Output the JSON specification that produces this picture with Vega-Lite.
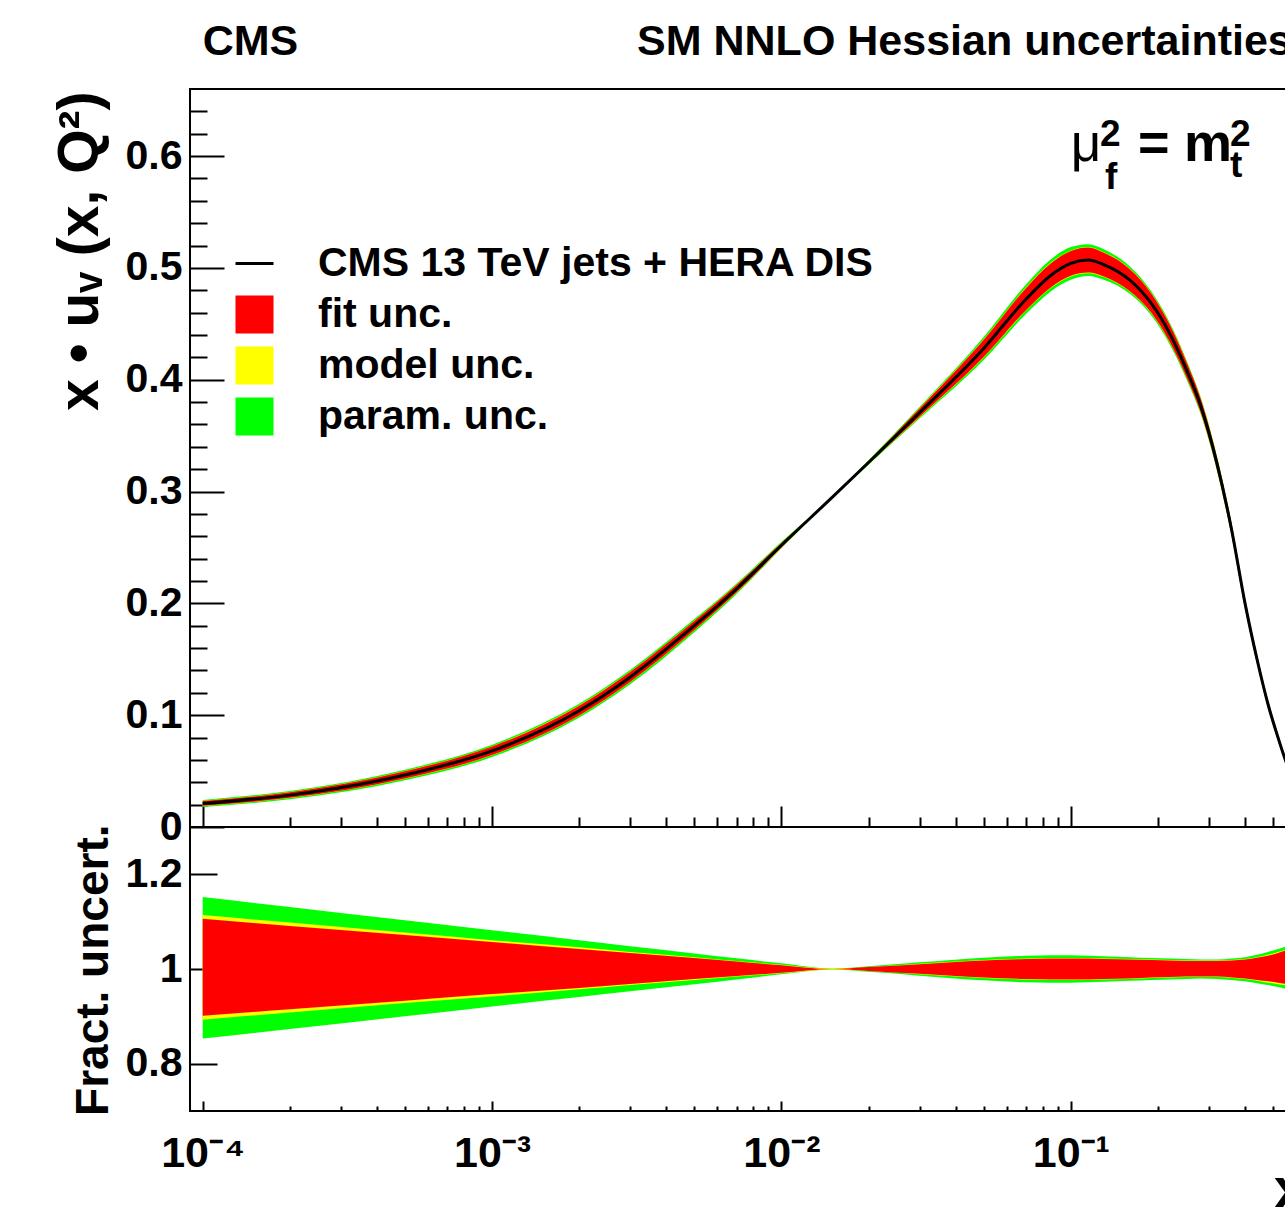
{
  "$schema": "https://vega.github.io/schema/vega-lite/v6.json",
  "background": "white",
  "padding": {"left": 50, "top": 19, "right": 0, "bottom": 0},
  "spacing": 0,
  "bounds": "flush",
  "resolve": {"scale": {"color": "independent"}, "legend": {"color": "independent"}},
  "config": {
    "font": "Liberation Sans",
    "view": {"stroke": "black", "strokeWidth": 2},
    "axis": {"grid": false, "domain": false, "tickColor": "black", "tickWidth": 2, "labelColor": "black", "titleColor": "black", "labelFont": "Liberation Sans", "titleFont": "Liberation Sans", "labelFontWeight": "bold", "titleFontWeight": "bold", "labelFlush": false, "labelOverlap": false, "labelLimit": 0, "tickCount": 200}
  },
  "datasets": {
    "upper": [
      {"x":0.0001,"c":0.021,"gl":0.0179,"yl":0.01875,"rl":0.01892,"rh":0.02323,"yh":0.02339,"gh":0.02419},
      {"x":0.0002,"c":0.0285,"gl":0.02488,"yl":0.02588,"rl":0.02608,"rh":0.03109,"yh":0.03129,"gh":0.03223},
      {"x":0.0005,"c":0.0465,"gl":0.04185,"yl":0.04315,"rl":0.04338,"rh":0.04985,"yh":0.05008,"gh":0.05129},
      {"x":0.001,"c":0.068,"gl":0.0626,"yl":0.0641,"rl":0.0644,"rh":0.0719,"yh":0.0722,"gh":0.0736},
      {"x":0.002,"c":0.104,"gl":0.0979,"yl":0.0995,"rl":0.0998,"rh":0.1084,"yh":0.1088,"gh":0.1103},
      {"x":0.003,"c":0.134,"gl":0.1277,"yl":0.12944,"rl":0.12978,"rh":0.13856,"yh":0.13882,"gh":0.14043},
      {"x":0.005,"c":0.180,"gl":0.17424,"yl":0.17586,"rl":0.17622,"rh":0.18414,"yh":0.1845,"gh":0.18594},
      {"x":0.007,"c":0.213,"gl":0.20831,"yl":0.20961,"rl":0.20987,"rh":0.21637,"yh":0.21662,"gh":0.21781},
      {"x":0.01,"c":0.252,"gl":0.24923,"yl":0.24973,"rl":0.24998,"rh":0.25402,"yh":0.25427,"gh":0.25502},
      {"x":0.015,"c":0.295,"gl":0.2947,"yl":0.2947,"rl":0.2950,"rh":0.2950,"yh":0.2953,"gh":0.2953},
      {"x":0.02,"c":0.326,"gl":0.32404,"yl":0.3247,"rl":0.3247,"rh":0.3273,"yh":0.3273,"gh":0.32796},
      {"x":0.03,"c":0.3705,"gl":0.36531,"yl":0.36642,"rl":0.3668,"rh":0.37421,"yh":0.37458,"gh":0.37569},
      {"x":0.05,"c":0.428,"gl":0.4177,"yl":0.4199,"rl":0.4203,"rh":0.4357,"yh":0.4361,"gh":0.4383},
      {"x":0.07,"c":0.472,"gl":0.4588,"yl":0.4616,"rl":0.4621,"rh":0.4819,"yh":0.4824,"gh":0.4852},
      {"x":0.085,"c":0.493,"gl":0.4787,"yl":0.4817,"rl":0.4822,"rh":0.5038,"yh":0.5043,"gh":0.5073},
      {"x":0.1,"c":0.504,"gl":0.4894,"yl":0.4924,"rl":0.4929,"rh":0.5151,"yh":0.5156,"gh":0.5186},
      {"x":0.115,"c":0.507,"gl":0.4928,"yl":0.4953,"rl":0.4958,"rh":0.5182,"yh":0.5187,"gh":0.5212},
      {"x":0.13,"c":0.503,"gl":0.4894,"yl":0.4919,"rl":0.4924,"rh":0.5136,"yh":0.5141,"gh":0.5166},
      {"x":0.16,"c":0.489,"gl":0.4768,"yl":0.4787,"rl":0.4792,"rh":0.4988,"yh":0.4993,"gh":0.5012},
      {"x":0.19,"c":0.468,"gl":0.4572,"yl":0.4591,"rl":0.4596,"rh":0.4769,"yh":0.4774,"gh":0.4788},
      {"x":0.22,"c":0.441,"gl":0.4313,"yl":0.4331,"rl":0.4335,"rh":0.4489,"yh":0.4494,"gh":0.4507},
      {"x":0.25,"c":0.41,"gl":0.4014,"yl":0.4030,"rl":0.4034,"rh":0.4170,"yh":0.4174,"gh":0.4186},
      {"x":0.28,"c":0.378,"gl":0.3704,"yl":0.3716,"rl":0.3720,"rh":0.3844,"yh":0.3848,"gh":0.3856},
      {"x":0.32,"c":0.325,"gl":0.3182,"yl":0.3195,"rl":0.3198,"rh":0.3305,"yh":0.3309,"gh":0.3315},
      {"x":0.36,"c":0.265,"gl":0.2589,"yl":0.2600,"rl":0.2602,"rh":0.2698,"yh":0.2700,"gh":0.2708},
      {"x":0.4,"c":0.200,"gl":0.1948,"yl":0.1958,"rl":0.1960,"rh":0.2040,"yh":0.2042,"gh":0.2050},
      {"x":0.44,"c":0.150,"gl":0.1455,"yl":0.1463,"rl":0.1466,"rh":0.1536,"yh":0.1538,"gh":0.1545},
      {"x":0.48,"c":0.110,"gl":0.1063,"yl":0.1068,"rl":0.1071,"rh":0.1131,"yh":0.1133,"gh":0.1140},
      {"x":0.52,"c":0.080,"gl":0.0770,"yl":0.0774,"rl":0.0777,"rh":0.0827,"yh":0.0829,"gh":0.0834},
      {"x":0.56,"c":0.055,"gl":0.0526,"yl":0.0531,"rl":0.0532,"rh":0.0572,"yh":0.0573,"gh":0.0577},
      {"x":0.6,"c":0.037,"gl":0.0352,"yl":0.0355,"rl":0.0357,"rh":0.0388,"yh":0.0389,"gh":0.0392}
    ],
    "ratio": [
      {"x":0.0001,"gl":0.853,"yl":0.893,"rl":0.901,"rh":1.106,"yh":1.114,"gh":1.152},
      {"x":0.0002,"gl":0.873,"yl":0.908,"rl":0.915,"rh":1.091,"yh":1.098,"gh":1.131},
      {"x":0.0005,"gl":0.900,"yl":0.928,"rl":0.933,"rh":1.072,"yh":1.077,"gh":1.103},
      {"x":0.001,"gl":0.921,"yl":0.942,"rl":0.947,"rh":1.057,"yh":1.061,"gh":1.082},
      {"x":0.002,"gl":0.941,"yl":0.957,"rl":0.960,"rh":1.042,"yh":1.046,"gh":1.061},
      {"x":0.003,"gl":0.953,"yl":0.966,"rl":0.9685,"rh":1.034,"yh":1.036,"gh":1.048},
      {"x":0.005,"gl":0.968,"yl":0.977,"rl":0.979,"rh":1.023,"yh":1.025,"gh":1.033},
      {"x":0.007,"gl":0.978,"yl":0.9841,"rl":0.9853,"rh":1.0158,"yh":1.017,"gh":1.0226},
      {"x":0.01,"gl":0.989,"yl":0.991,"rl":0.992,"rh":1.008,"yh":1.009,"gh":1.012},
      {"x":0.015,"gl":0.999,"yl":0.999,"rl":1.000,"rh":1.000,"yh":1.001,"gh":1.001},
      {"x":0.02,"gl":0.994,"yl":0.996,"rl":0.996,"rh":1.004,"yh":1.004,"gh":1.006},
      {"x":0.03,"gl":0.986,"yl":0.989,"rl":0.990,"rh":1.010,"yh":1.011,"gh":1.014},
      {"x":0.05,"gl":0.976,"yl":0.981,"rl":0.982,"rh":1.018,"yh":1.019,"gh":1.024},
      {"x":0.07,"gl":0.972,"yl":0.978,"rl":0.979,"rh":1.021,"yh":1.022,"gh":1.028},
      {"x":0.085,"gl":0.971,"yl":0.977,"rl":0.978,"rh":1.022,"yh":1.023,"gh":1.029},
      {"x":0.1,"gl":0.971,"yl":0.977,"rl":0.978,"rh":1.022,"yh":1.023,"gh":1.029},
      {"x":0.115,"gl":0.972,"yl":0.977,"rl":0.978,"rh":1.022,"yh":1.023,"gh":1.028},
      {"x":0.13,"gl":0.973,"yl":0.978,"rl":0.979,"rh":1.021,"yh":1.022,"gh":1.027},
      {"x":0.16,"gl":0.975,"yl":0.979,"rl":0.980,"rh":1.020,"yh":1.021,"gh":1.025},
      {"x":0.19,"gl":0.977,"yl":0.981,"rl":0.982,"rh":1.019,"yh":1.020,"gh":1.023},
      {"x":0.22,"gl":0.978,"yl":0.982,"rl":0.983,"rh":1.018,"yh":1.019,"gh":1.022},
      {"x":0.25,"gl":0.979,"yl":0.983,"rl":0.984,"rh":1.017,"yh":1.018,"gh":1.021},
      {"x":0.28,"gl":0.980,"yl":0.983,"rl":0.984,"rh":1.017,"yh":1.018,"gh":1.020},
      {"x":0.32,"gl":0.979,"yl":0.983,"rl":0.984,"rh":1.017,"yh":1.018,"gh":1.020},
      {"x":0.36,"gl":0.977,"yl":0.981,"rl":0.982,"rh":1.018,"yh":1.019,"gh":1.022},
      {"x":0.4,"gl":0.974,"yl":0.979,"rl":0.980,"rh":1.020,"yh":1.021,"gh":1.025},
      {"x":0.44,"gl":0.970,"yl":0.975,"rl":0.977,"rh":1.024,"yh":1.025,"gh":1.030},
      {"x":0.48,"gl":0.966,"yl":0.971,"rl":0.974,"rh":1.028,"yh":1.030,"gh":1.036},
      {"x":0.52,"gl":0.962,"yl":0.968,"rl":0.971,"rh":1.034,"yh":1.036,"gh":1.042},
      {"x":0.56,"gl":0.957,"yl":0.965,"rl":0.968,"rh":1.040,"yh":1.042,"gh":1.049},
      {"x":0.6,"gl":0.952,"yl":0.960,"rl":0.964,"rh":1.048,"yh":1.050,"gh":1.058}
    ],
    "titles": [
      {"t":"CMS","x":0.0001,"y":0.6908},
      {"t":"SM NNLO Hessian uncertainties","x":0.00317,"y":0.6908}
    ],
    "mu": [{"t":"μ","x":0.1,"y":0.5955}],
    "scaleMain": [{"t":"=","x":0.1707,"y":0.5955},{"t":"m","x":0.246,"y":0.5955}],
    "scaleScript": [
      {"t":"2","x":0.1262,"y":0.6089},
      {"t":"f","x":0.1313,"y":0.5705},
      {"t":"2","x":0.355,"y":0.6089},
      {"t":"t","x":0.355,"y":0.5816}
    ]
  },
  "vconcat": [
    {
      "width": 1106,
      "height": 738,
      "data": {"name": "upper"},
      "layer": [
        {
          "mark": {"type": "area", "opacity": 1, "interpolate": "monotone"},
          "encoding": {
            "x": {"field": "x", "type": "quantitative",
              "scale": {"type": "log", "domain": [0.0000904, 0.6], "nice": false},
              "axis": {"orient": "bottom", "title": null, "labels": false, "tickCount": 200,
                "values": [0.0001,0.0002,0.0003,0.0004,0.0005,0.0006,0.0007,0.0008,0.0009,0.001,0.002,0.003,0.004,0.005,0.006,0.007,0.008,0.009,0.01,0.02,0.03,0.04,0.05,0.06,0.07,0.08,0.09,0.1,0.2,0.3,0.4,0.5,0.6],
                "tickSize": {"condition": {"test": "abs(log(datum.value)/log(10) - round(log(datum.value)/log(10))) < 0.001", "value": -21}, "value": -10}}},
            "y": {"field": "gl", "type": "quantitative",
              "scale": {"domain": [0, 0.66], "nice": false, "zero": false},
              "axis": {"orient": "left", "tickCount": 200,
                "values": [0,0.02,0.04,0.06,0.08,0.1,0.12,0.14,0.16,0.18,0.2,0.22,0.24,0.26,0.28,0.3,0.32,0.34,0.36,0.38,0.4,0.42,0.44,0.46,0.48,0.5,0.52,0.54,0.56,0.58,0.6,0.62,0.64],
                "labelExpr": "abs(datum.value*10 - round(datum.value*10)) < 0.001 ? format(datum.value, '~g') : ''",
                "tickSize": {"condition": {"test": "abs(datum.value*10 - round(datum.value*10)) < 0.001", "value": -34}, "value": -17},
                "labelPadding": 42, "labelFontSize": 41,
                "title": "x • uᵥ (x, Q²)", "titleFontSize": 57, "titleAngle": 270,
                "titleAnchor": "end", "titleAlign": "right", "titleBaseline": "alphabetic",
                "titleX": -93, "titleY": 2}},
            "y2": {"field": "gh"},
            "color": {"datum": "param. unc.",
              "scale": {"domain": ["CMS 13 TeV jets + HERA DIS", "fit unc.", "model unc.", "param. unc."], "range": ["#000000", "#ff0000", "#ffff00", "#00ff00"]},
              "legend": {"orient": "none", "legendX": 44, "legendY": 154, "title": null, "padding": 0,
                "symbolType": "square", "symbolSize": 1444, "symbolOpacity": 1, "symbolStrokeWidth": 0,
                "labelFont": "Liberation Sans", "labelFontSize": 41, "labelFontWeight": "bold", "labelColor": "black",
                "labelLimit": 0, "labelOffset": 43, "rowPadding": 9,
                "encode": {"symbols": {"update": {
                  "shape": {"signal": "datum.label === 'CMS 13 TeV jets + HERA DIS' ? 'stroke' : 'square'"},
                  "fill": {"signal": "scale('color', datum.value)"},
                  "stroke": {"signal": "datum.label === 'CMS 13 TeV jets + HERA DIS' ? 'black' : 'transparent'"},
                  "strokeWidth": {"signal": "datum.label === 'CMS 13 TeV jets + HERA DIS' ? 3 : 0"},
                  "opacity": {"value": 1}
                }}}}}
          }
        },
        {
          "mark": {"type": "area", "opacity": 1, "interpolate": "monotone"},
          "encoding": {
            "x": {"field": "x", "type": "quantitative"},
            "y": {"field": "yl", "type": "quantitative"},
            "y2": {"field": "yh"},
            "color": {"datum": "model unc."}
          }
        },
        {
          "mark": {"type": "area", "opacity": 1, "interpolate": "monotone"},
          "encoding": {
            "x": {"field": "x", "type": "quantitative"},
            "y": {"field": "rl", "type": "quantitative"},
            "y2": {"field": "rh"},
            "color": {"datum": "fit unc."}
          }
        },
        {
          "mark": {"type": "line", "strokeWidth": 3, "interpolate": "monotone"},
          "encoding": {
            "x": {"field": "x", "type": "quantitative"},
            "y": {"field": "c", "type": "quantitative"},
            "color": {"datum": "CMS 13 TeV jets + HERA DIS"}
          }
        },
        {
          "data": {"name": "titles"},
          "mark": {"type": "text", "align": "left", "baseline": "alphabetic", "fontSize": 43, "fontWeight": "bold", "font": "Liberation Sans", "color": "black"},
          "encoding": {
            "x": {"field": "x", "type": "quantitative"},
            "y": {"field": "y", "type": "quantitative"},
            "text": {"field": "t"}
          }
        },
        {
          "data": {"name": "mu"},
          "mark": {"type": "text", "align": "left", "baseline": "alphabetic", "fontSize": 53, "fontWeight": "normal", "font": "Liberation Sans", "color": "black"},
          "encoding": {
            "x": {"field": "x", "type": "quantitative"},
            "y": {"field": "y", "type": "quantitative"},
            "text": {"field": "t"}
          }
        },
        {
          "data": {"name": "scaleMain"},
          "mark": {"type": "text", "align": "left", "baseline": "alphabetic", "fontSize": 54, "fontWeight": "bold", "font": "Liberation Sans", "color": "black"},
          "encoding": {
            "x": {"field": "x", "type": "quantitative"},
            "y": {"field": "y", "type": "quantitative"},
            "text": {"field": "t"}
          }
        },
        {
          "data": {"name": "scaleScript"},
          "mark": {"type": "text", "align": "left", "baseline": "alphabetic", "fontSize": 37, "fontWeight": "bold", "font": "Liberation Sans", "color": "black"},
          "encoding": {
            "x": {"field": "x", "type": "quantitative"},
            "y": {"field": "y", "type": "quantitative"},
            "text": {"field": "t"}
          }
        }
      ]
    },
    {
      "width": 1106,
      "height": 284,
      "data": {"name": "ratio"},
      "layer": [
        {
          "mark": {"type": "area", "color": "#00ff00", "opacity": 1, "interpolate": "monotone"},
          "encoding": {
            "x": {"field": "x", "type": "quantitative",
              "scale": {"type": "log", "domain": [0.0000904, 0.6], "nice": false},
              "axis": {"orient": "bottom", "tickCount": 200,
                "values": [0.0001,0.0002,0.0003,0.0004,0.0005,0.0006,0.0007,0.0008,0.0009,0.001,0.002,0.003,0.004,0.005,0.006,0.007,0.008,0.009,0.01,0.02,0.03,0.04,0.05,0.06,0.07,0.08,0.09,0.1,0.2,0.3,0.4,0.5,0.6],
                "labelExpr": "datum.value == 0.0001 ? '10⁻⁴' : datum.value == 0.001 ? '10⁻³' : datum.value == 0.01 ? '10⁻²' : datum.value == 0.1 ? '10⁻¹' : ''",
                "tickSize": {"condition": {"test": "abs(log(datum.value)/log(10) - round(log(datum.value)/log(10))) < 0.001", "value": -10}, "value": -5},
                "labelPadding": 31, "labelFontSize": 43,
                "title": "x", "titleFontSize": 57, "titleAnchor": "end", "titleAlign": "right", "titleBaseline": "alphabetic",
                "titleX": 1115, "titleY": 96}},
            "y": {"field": "gl", "type": "quantitative",
              "scale": {"domain": [0.7, 1.3], "nice": false, "zero": false},
              "axis": {"orient": "left", "values": [0.8, 1, 1.2], "format": "~g",
                "tickSize": -27, "labelPadding": 35, "labelFontSize": 41,
                "title": "Fract. uncert.", "titleFontSize": 46, "titleAngle": 270,
                "titleAnchor": "end", "titleAlign": "right", "titleBaseline": "alphabetic",
                "titleX": -83, "titleY": -3}},
            "y2": {"field": "gh"}
          }
        },
        {
          "mark": {"type": "area", "color": "#ffff00", "opacity": 1, "interpolate": "monotone"},
          "encoding": {
            "x": {"field": "x", "type": "quantitative"},
            "y": {"field": "yl", "type": "quantitative"},
            "y2": {"field": "yh"}
          }
        },
        {
          "mark": {"type": "area", "color": "#ff0000", "opacity": 1, "interpolate": "monotone"},
          "encoding": {
            "x": {"field": "x", "type": "quantitative"},
            "y": {"field": "rl", "type": "quantitative"},
            "y2": {"field": "rh"}
          }
        }
      ]
    }
  ]
}
